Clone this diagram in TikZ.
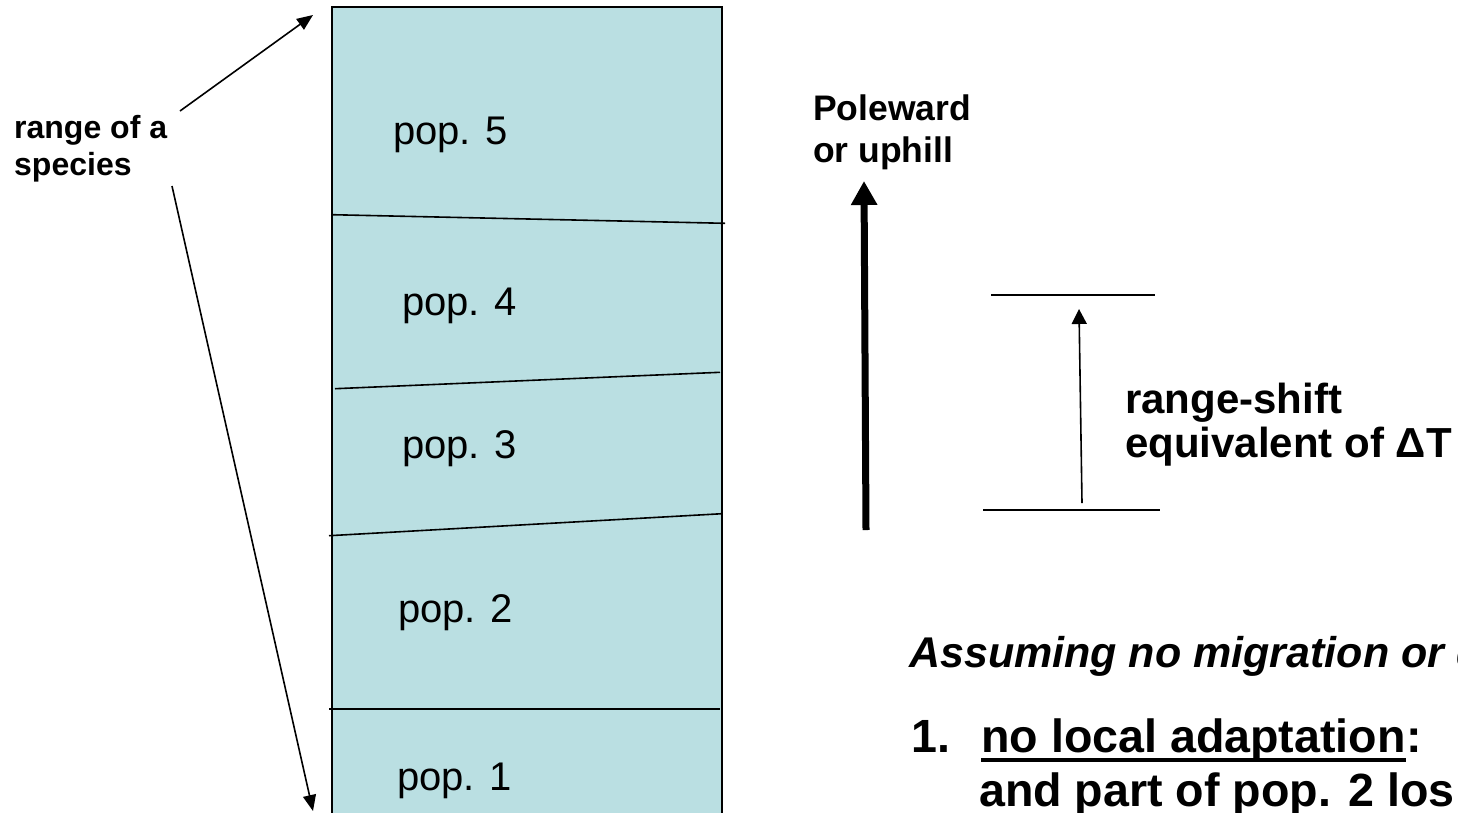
\documentclass[tikz,border=0pt]{standalone}
\usepackage{fontspec}
\setmainfont{Liberation Sans}
\usetikzlibrary{arrows.meta}
\definecolor{popfill}{RGB}{186,223,226}
\begin{document}
\begin{tikzpicture}[x=1pt,y=-1pt,
  lbl/.style={inner sep=0pt, anchor=base west},
  popt/.style={lbl, font=\fontsize{40}{48}\selectfont},
  sidet/.style={lbl, font=\fontsize{32}{38}\selectfont\bfseries},
  polet/.style={lbl, font=\fontsize{35.5}{42}\selectfont\bfseries},
  shiftt/.style={lbl, font=\fontsize{42}{50}\selectfont\bfseries},
  listt/.style={lbl, font=\fontsize{46.6}{54}\selectfont\bfseries},
  assumt/.style={lbl, font=\fontsize{43}{50}\selectfont\bfseries\itshape},
  thinline/.style={line width=1.6pt},
  thintip/.style={-{Triangle[length=16pt,width=13pt]}},
  smalltip/.style={-{Triangle[length=15pt,width=15pt]}},
  bigtip/.style={-{Triangle[length=24pt,width=25pt]}}]
\useasboundingbox (0,0) rectangle (1458,812);
\clip (0,0) rectangle (1458,812);
\fill[white] (0,0) rectangle (1458,812);

% range box
\draw[thinline, fill=popfill] (332,7) rectangle (722,814);
\coordinate (d1l) at (332,214.7); \coordinate (d1r) at (725,223.3);
\coordinate (d2l) at (335,388.7); \coordinate (d2r) at (720,372.3);
\coordinate (d3l) at (329,535.7); \coordinate (d3r) at (722,513.7);
\coordinate (d4l) at (329,709);   \coordinate (d4r) at (720,709);
\draw[thinline] (d1l) -- (d1r);
\draw[thinline] (d2l) -- (d2r);
\draw[thinline] (d3l) -- (d3r);
\draw[thinline] (d4l) -- (d4r);

\node[popt] (p5) at (393,144) {pop. 5};
\node[popt] (p4) at (402,315) {pop. 4};
\node[popt] (p3) at (402,458) {pop. 3};
\node[popt] (p2) at (398,622) {pop. 2};
\node[popt] (p1) at (397,790) {pop. 1};

% range of a species
\node[sidet] (rng1) at (14,138) {range of a};
\node[sidet] (rng2) at (14,175) {species};
\coordinate (rtop) at (313,15);
\coordinate (rbot) at (313,811);
\coordinate (rs1) at (180,111);
\coordinate (rs2) at (172,186);
\draw[thinline, thintip] (rs1) -- (rtop);
\draw[thinline, thintip] (rs2) -- (rbot);

% poleward arrow
\node[polet] (pole1) at (813,120) {Poleward};
\node[polet] (pole2) at (813,162) {or uphill};
\coordinate (pa0) at (866,530);
\coordinate (pa1) at (864,181);
\draw[line width=7pt, bigtip] (pa0) -- (pa1);

% range shift
\coordinate (tl0) at (991,295); \coordinate (tl1) at (1155,295);
\coordinate (bl0) at (983,510); \coordinate (bl1) at (1160,510);
\draw[thinline] (tl0) -- (tl1);
\draw[thinline] (bl0) -- (bl1);
\coordinate (sa0) at (1082,503);
\coordinate (sa1) at (1079,309);
\draw[thinline, smalltip] (sa0) -- (sa1);
\node[shiftt] (rs) at (1125,413) {range-shift};
\node[shiftt] (eq) at (1125,457) {equivalent of ΔT};

% bottom text
\node[assumt] (as) at (909,667) {Assuming no migration or d};
\node[listt] (n1) at (911,752) {1.};
\node[listt] (nla) at (981,752) {no local adaptation};
\node[listt, anchor=base west] (colon) at (nla.base east) {:};
\draw[line width=3.5pt] ([yshift=-8pt]nla.base west) -- ([yshift=-8pt]nla.base east);
\node[listt] (part) at (979,806) {and part of pop. 2 los};
\end{tikzpicture}
\end{document}
